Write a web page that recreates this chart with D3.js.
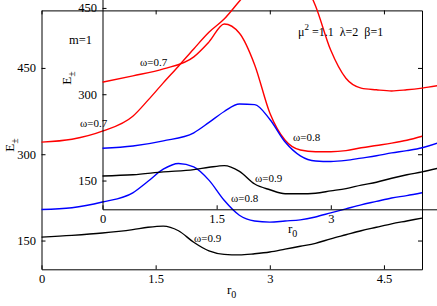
<!DOCTYPE html>
<html><head><meta charset="utf-8">
<script src="https://cdn.jsdelivr.net/npm/d3@7"></script>
<style>
html,body{margin:0;padding:0;background:#fff;}
svg{display:block;}
svg text{font-family:"Liberation Serif","Times New Roman","DejaVu Serif",serif;}
</style></head>
<body>
<svg id="c" width="437" height="306"></svg>
<script>
// r0 sample points
const r0 = [0,0.4,0.8,1.2,1.4,1.6,1.8,2.0,2.2,2.4,2.6,2.8,3.0,3.2,3.4,3.6,3.8,4.0,4.2,4.4,4.6,4.8,5.0,5.2];
// main panel series (E±)
const mainRed   = [321,326,340,366,394,424,453,483,512,535,566,596,620,629,611,558,481,432,415,412,410,412,415,419];
const mainBlue  = [204,207,217,233,253,274,284,278,255,220,194,184,182,184,186,191,198,205,212,218,224,228,233];
const mainBlack = [156,159,163,169,173,175,167,147,132,126,125,127,130,135,140,145,153,160,167,173,179,184,189];
// inset panel series (E±)
const insetRed   = [321,332,344,365,391,422,406,351,267,220,203,200,200,202,207,211,215,220,227];
const insetBlue  = [206,210,219,233,251,270,283,282,256,217,193,184,183,185,189,193,198,202,207,215];
const insetBlack = [158,160,165,169,173,176,166,144,134,127,127,128,132,136,142,147,154,160,165,171];
const xTicks = [0,1.5,3,4.5];
const insetXTicks = [0,1.5,3];
const yTicks = [150,300,450];
const xDomain = [0,5];
const yDomain = [100,550];

const svg = d3.select("#c");
svg.append("rect").attr("width",437).attr("height",306).attr("fill","#fff");

const x = d3.scaleLinear().domain(xDomain).range([41.5,422]);
const y = d3.scaleLinear().domain(yDomain).range([269.3,10.4]);

function fmt(d){ return String(d); }
const FONT = "Liberation Serif, Times New Roman, DejaVu Serif, serif";

function drawPanel(g, full, xt){
  const ax = g.append("g").attr("class","axes");
  const bottom = d3.axisBottom(x).tickValues(xt).tickSizeInner(-4).tickSizeOuter(0).tickPadding(5).tickFormat(fmt);
  const left = d3.axisLeft(y).tickValues(yTicks).tickSizeInner(-4).tickSizeOuter(0).tickPadding(5.5).tickFormat(fmt);
  ax.append("g").attr("transform",`translate(0,${y(yDomain[0])})`).call(bottom);
  ax.append("g").attr("transform",`translate(${x(xDomain[0])},0)`).call(left);
  if(full){
    ax.append("g").attr("transform",`translate(0,${y(yDomain[1])})`)
      .call(d3.axisTop(x).tickValues(xt).tickSizeInner(-4).tickSizeOuter(0).tickFormat(""));
    ax.append("g").attr("transform",`translate(${x(xDomain[1])},0)`)
      .call(d3.axisRight(y).tickValues(yTicks).tickSizeInner(-4).tickSizeOuter(0).tickFormat(""));
  }
  ax.selectAll("g").attr("font-family",FONT);
  ax.selectAll("path.domain").attr("stroke","#000").attr("stroke-width",1);
  ax.selectAll(".tick line").attr("stroke","#000").attr("stroke-width",1);
  ax.selectAll(".tick text").attr("font-family",FONT)
    .attr("font-size",12.5).attr("fill","#000");
}

function drawLine(g, vals, color){
  const pts = vals.map((v,i)=>[r0[i],v]);
  const line = d3.line().x(d=>x(d[0])).y(d=>y(d[1])).curve(d3.curveMonotoneX);
  g.append("path").attr("d",line(pts)).attr("fill","none")
    .attr("stroke",color).attr("stroke-width",1.4).attr("stroke-linejoin","round");
}

// main panel
const main = svg.append("g");
drawPanel(main, true, xTicks);
drawLine(main, mainRed, "#ff0000");
drawLine(main, mainBlue, "#0000ff");
drawLine(main, mainBlack, "#000000");

// inset panel (same scales, shifted)
const inset = svg.append("g").attr("transform","translate(61,-60)");
drawPanel(inset, false, insetXTicks);
drawLine(inset, insetRed, "#ff0000");
drawLine(inset, insetBlue, "#0000ff");
drawLine(inset, insetBlack, "#000000");

// text
const T = svg.append("g").attr("fill","#000").attr("font-family",FONT);
function label(xp, yp, s, size){
  T.append("text").attr("x",xp).attr("y",yp).attr("font-size",size).text(s);
}
label(80,127,"ω=0.7",11);
label(231,202,"ω=0.8",11);
label(194,242,"ω=0.9",11);
label(140,66,"ω=0.7",11);
label(293,141,"ω=0.8",11);
label(255,182,"ω=0.9",11);
label(69,44,"m=1",12.5);

const mu = T.append("text").attr("x",298).attr("y",36).attr("font-size",12).attr("xml:space","preserve");
mu.append("tspan").text("μ");
mu.append("tspan").attr("dy",-6).attr("font-size",9).text("2");
mu.append("tspan").attr("dy",6).text(" =1.1  λ=2  β=1");

function rlabel(xp, yp){
  const t = T.append("text").attr("x",xp).attr("y",yp).attr("font-size",13);
  t.append("tspan").text("r");
  t.append("tspan").attr("dy",4).attr("font-size",10).text("0");
}
rlabel(227,294);
rlabel(288,233);

function elabel(cx, cy){
  const t = T.append("text").attr("transform",`translate(${cx},${cy}) rotate(-90)`)
    .attr("text-anchor","middle").attr("font-size",13);
  t.append("tspan").text("E");
  t.append("tspan").attr("dy",4).attr("font-size",10).text("±");
}
elabel(14,145);
elabel(71,78);
</script>
</body></html>
